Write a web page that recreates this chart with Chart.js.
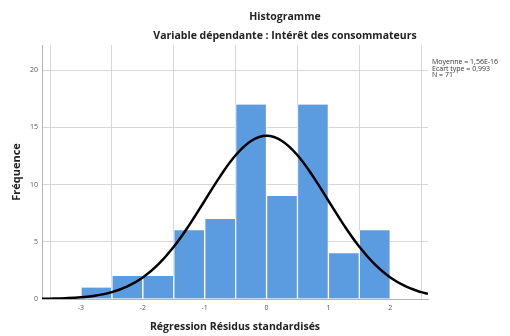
<!DOCTYPE html>
<html>
<head>
<meta charset="utf-8">
<script src="https://cdn.jsdelivr.net/npm/chart.js@4/dist/chart.umd.min.js"></script>
<style>
  html, body { margin: 0; padding: 0; background: #fff; }
  #wrap { width: 510px; height: 336px; }
</style>
</head>
<body>
<div id="wrap"><canvas id="histChart" width="510" height="336"></canvas></div>
<script>
// bins of width 0.5
const binCenters = [-2.75, -2.25, -1.75, -1.25, -0.75, -0.25, 0.25, 0.75, 1.25, 1.75];
const frequencies = [1, 2, 2, 6, 7, 17, 9, 17, 4, 6];

// normal curve, points
const curveX = [-3.63, -3.5, -3.25, -3, -2.75, -2.5, -2.25, -2, -1.75, -1.5, -1.25, -1, -0.75, -0.5, -0.25, 0,
                0.25, 0.5, 0.75, 1, 1.25, 1.5, 1.75, 2, 2.25, 2.5, 2.61];
const curveY = [0.02, 0.03, 0.07, 0.15, 0.31, 0.6, 1.1, 1.88, 3.02, 4.56, 6.46, 8.59, 10.72, 12.56, 13.81, 14.26,
                13.81, 12.56, 10.72, 8.59, 6.46, 4.56, 3.02, 1.88, 1.1, 0.6, 0.45];

const xTicks = [-3, -2, -1, 0, 1, 2];
const yTicks = [0, 5, 10, 15, 20];
const statsLines = ['Moyenne = 1,56E-16', 'Ecart type = 0,993', 'N = 71'];

const titleText = 'Histogramme';
const subtitleText = 'Variable dépendante : Intérêt des consommateurs';
const xTitle = 'Régression Résidus standardisés';
const yTitle = 'Fréquence';

const FONT = '"Open Sans", "DejaVu Sans", sans-serif';

// titles + stats box drawn on canvas
const textPlugin = {
  id: 'histTexts',
  afterDraw(chart) {
    const ctx = chart.ctx;
    ctx.save();
    ctx.fillStyle = '#222';
    ctx.textAlign = 'center';
    ctx.textBaseline = 'middle';
    ctx.font = 'bold 10.5px ' + FONT;
    ctx.fillText(titleText, 285, 17);
    ctx.fillText(subtitleText, 285, 36);

    ctx.textAlign = 'left';
    ctx.font = '7px ' + FONT;
    ctx.fillStyle = '#333';
    statsLines.forEach((line, i) => {
      ctx.fillText(line, chart.chartArea.right + 4, 62 + i * 6.5);
    });
    ctx.restore();
  }
};

const ctx = document.getElementById('histChart');
new Chart(ctx, {
  type: 'bar',
  data: {
    datasets: [{
      type: 'line',
      data: curveX.map((x, i) => ({ x: x, y: curveY[i] })),
      borderColor: '#000',
      borderWidth: 2.5,
      pointRadius: 0,
      tension: 0.4,
      fill: false,
      order: 0
    }, {
      type: 'bar',
      data: binCenters.map((x, i) => ({ x: x, y: frequencies[i] })),
      backgroundColor: '#5b9be0',
      borderColor: '#ffffff',
      borderWidth: { left: 1, right: 1, top: 0, bottom: 0 },
      borderSkipped: false,
      barPercentage: 1,
      categoryPercentage: 1,
      order: 1
    }]
  },
  options: {
    responsive: false,
    animation: false,
    layout: { padding: { top: 45, right: 82, left: 0, bottom: 0 } },
    plugins: { legend: { display: false }, tooltip: { enabled: false } },
    scales: {
      x: {
        type: 'linear',
        min: -3.63,
        max: 2.61,
        offset: false,
        afterBuildTicks: s => { s.ticks = xTicks.map(v => ({ value: v })); },
        afterFit: s => { s.height = 37; },
        grid: { color: '#d6d6d6', lineWidth: 1, drawTicks: false },
        border: { color: '#b5b5b5', width: 1 },
        ticks: { color: '#555', font: { size: 7, family: FONT }, padding: 5, maxRotation: 0 },
        title: { display: true, text: xTitle, color: '#222', font: { size: 10.5, weight: 'bold', family: FONT }, padding: { top: 0, bottom: 3 } }
      },
      y: {
        min: 0,
        max: 22.2,
        afterBuildTicks: s => { s.ticks = yTicks.map(v => ({ value: v })); },
        afterFit: s => { s.width = 42; },
        grid: { color: '#d6d6d6', lineWidth: 1, drawTicks: false },
        border: { color: '#b5b5b5', width: 1 },
        ticks: { color: '#555', font: { size: 7, family: FONT }, padding: 4 },
        title: { display: true, text: yTitle, color: '#222', font: { size: 11, weight: 'bold', family: FONT }, padding: { top: 10, bottom: 0 } }
      }
    }
  },
  plugins: [textPlugin]
});
</script>
</body>
</html>
